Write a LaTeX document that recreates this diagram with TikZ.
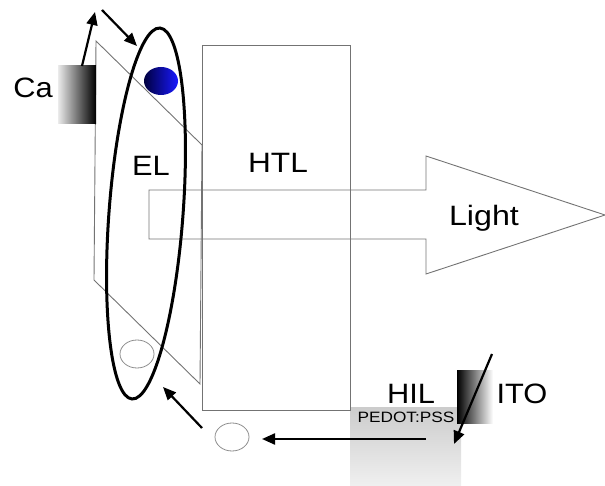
\documentclass[tikz,border=0pt]{standalone}
\usepackage{fontspec}
\setmainfont{Liberation Sans}
\usetikzlibrary{arrows.meta}
\begin{document}
\begin{tikzpicture}[x=1pt,y=-1pt,
  thin gray/.style={draw=black!55,line width=0.9pt},
  big/.style={font=\fontsize{28}{30}\selectfont,inner sep=0pt,anchor=base},
  small/.style={font=\fontsize{15}{17}\selectfont,inner sep=0pt,anchor=base},
  flow/.style={draw=black,line width=2.2pt,-{Triangle[length=13pt,width=11pt]}},
  carrier/.style={draw=black!45,line width=0.8pt}]
\useasboundingbox (0,0) rectangle (605,486);
% PEDOT:PSS box
\path[top color=black!20,bottom color=black!6] (350,407) rectangle (461,486);
% EL layer (parallelogram)
\draw[thin gray] (96,41) -- (202,145) -- (200,384) -- (94,280) -- cycle;
% HTL layer
\draw[thin gray] (202,45) rectangle (350,410);
% Light arrow
\draw[thin gray,line join=miter] (149,190) -- (426,190) -- (426,156) -- (605,215) -- (426,274) -- (426,239) -- (149,239) -- cycle;
% Ca electrode
\path[left color=black!8,right color=black] (58,66) rectangle (96,124);
% ITO electrode
\path[left color=black,right color=white] (457,370) rectangle (493,423);
% EL ellipse
\draw[line width=3pt,shift={(146,213.5)},rotate=-4.3] (0,0) ellipse [x radius=37pt,y radius=186pt];
% electron (filled) and holes (open)
\path[left color=blue!25!black,right color=blue!90!white] (161,81) ellipse [x radius=17pt,y radius=14pt];
\node[inner sep=0pt] (electron) at (161,81) {};
\draw[carrier] (137,354) ellipse [x radius=17pt,y radius=14pt];
\draw[carrier] (232,437) ellipse [x radius=17pt,y radius=14pt];
\node[inner sep=0pt] (hole1) at (137,354) {};
\node[inner sep=0pt] (hole2) at (232,437) {};
% arrow end points
\coordinate (caTop) at (82,66);
\coordinate (up) at (95,12);
\coordinate (dnS) at (102,10);
\coordinate (dnE) at (137,46);
\coordinate (h2S) at (202,428);
\coordinate (h2E) at (163,387);
\coordinate (hS) at (426,439);
\coordinate (hE) at (262,439);
\coordinate (itoS) at (492,354);
\coordinate (itoE) at (454,444);
\draw[flow] (caTop) -- (up);
\draw[flow] (dnS) -- (dnE);
\draw[flow] (h2S) -- (h2E);
\draw[flow] (hS) -- (hE);
\draw[flow] (itoS) -- (itoE);
% labels
\node[big] (ca) at (33,98) {\scalebox{1.1}[1]{Ca}};
\node[big] (eltext) at (151,176) {\scalebox{1.1}[1]{EL}};
\node[big] (htl) at (278,173) {\scalebox{1.13}[1]{HTL}};
\node[big] (light) at (484,226) {\scalebox{1.15}[1]{Light}};
\node[big] (hil) at (411,403) {\scalebox{1.1}[1]{HIL}};
\node[big] (ito) at (522,403) {\scalebox{1.1}[1]{ITO}};
\node[small] (pedot) at (406,422) {\scalebox{1.15}[1]{PEDOT:PSS}};
\end{tikzpicture}
\end{document}
